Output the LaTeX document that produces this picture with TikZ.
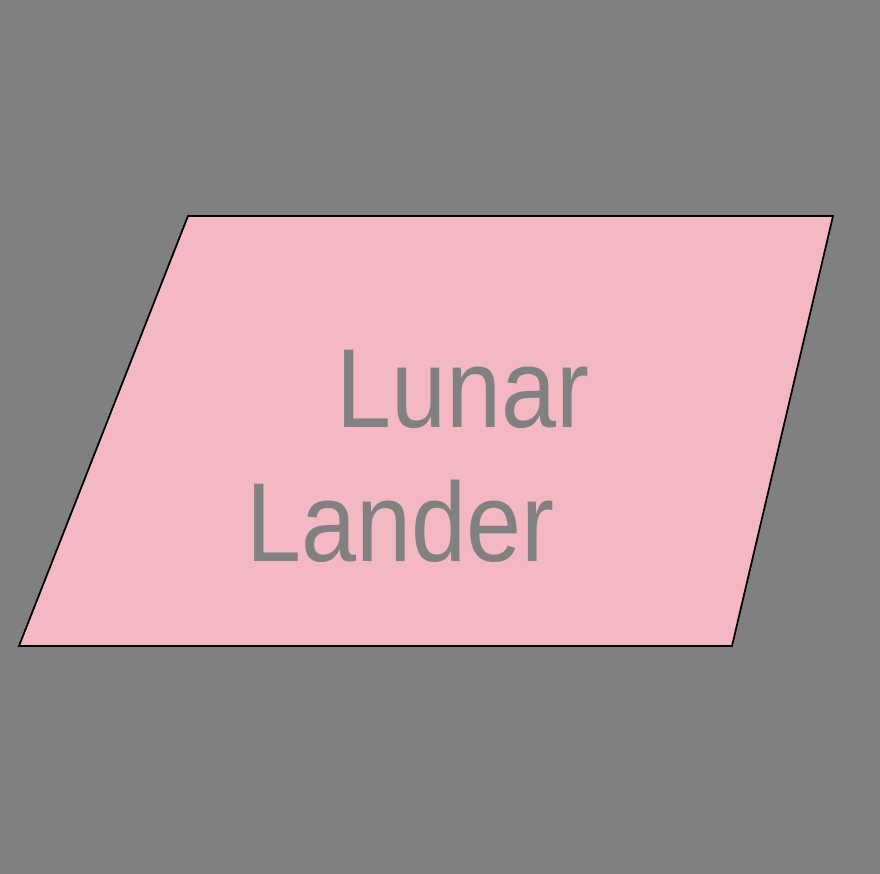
\documentclass[tikz,border=0pt]{standalone}
\usepackage{fontspec}
\setmainfont{Liberation Sans}
\usetikzlibrary{positioning}
\definecolor{bggray}{HTML}{808080}
\definecolor{landerpink}{HTML}{F4B8C3}
\definecolor{textgray}{HTML}{818181}

\begin{document}
\begin{tikzpicture}[x=0.02cm,y=-0.02cm,
    word node/.style={inner sep=0pt,anchor=base west,text=textgray,
      font=\fontsize{64}{70}\selectfont,xscale=0.88,transform shape}]
   % background and page size
   \fill[bggray] (0,0) rectangle (880,874);
   \useasboundingbox (0,0) rectangle (880,874);
   % the slanted box
   \coordinate (tl) at (188,216);
   \coordinate (tr) at (833,216);
   \coordinate (br) at (732,646);
   \coordinate (bl) at (19,646);
   \draw[fill=landerpink,line width=1pt,line join=miter] (tl) -- (tr) -- (br) -- (bl) -- cycle;
   % text
   \node[word node] (lunar) at (336,428) {Lunar};
   \node[word node] (lander) at (246,562) {Lander};
\end{tikzpicture}
\end{document}
